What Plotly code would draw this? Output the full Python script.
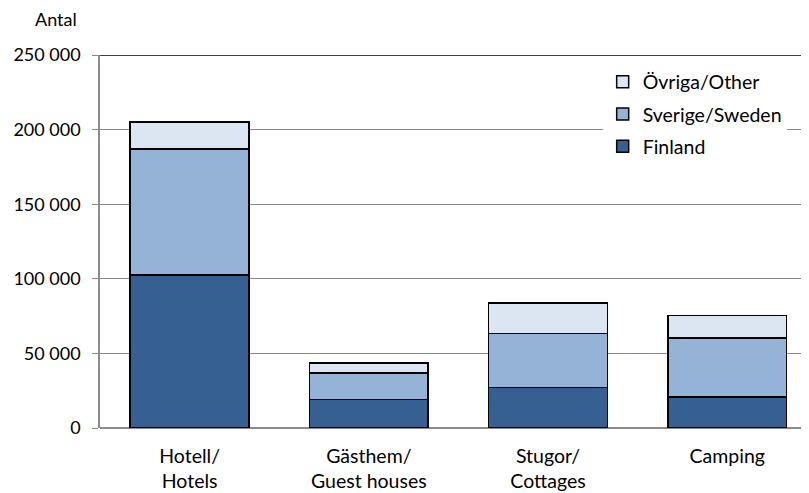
import plotly.graph_objects as go

categories = ["Hotell/<br>Hotels", "Gästhem/<br>Guest houses", "Stugor/<br>Cottages", "Camping"]
finland = [102500, 19000, 27200, 20800]
sverige = [84500, 17800, 36300, 39400]
ovriga = [18100, 6700, 20200, 15300]
y_tickvals = [0, 50000, 100000, 150000, 200000, 250000]
y_ticktext = ["0", "50 000", "100 000", "150 000", "200 000", "250 000"]

FONT = "Lato, Calibri, Carlito, sans-serif"
line = dict(color="#000000", width=1.5)

fig = go.Figure()
fig.add_trace(go.Bar(name="Finland", x=categories, y=finland, legendrank=3,
                     marker=dict(color="#376092", line=line), legendgroup="a"))
fig.add_trace(go.Bar(name="Sverige/Sweden", x=categories, y=sverige, legendrank=2,
                     marker=dict(color="#95B3D7", line=line), legendgroup="b"))
fig.add_trace(go.Bar(name="Övriga/Other", x=categories, y=ovriga, legendrank=1,
                     marker=dict(color="#DCE6F2", line=line), legendgroup="c"))

# page has an 8px body margin, so the figure is drawn 8px smaller and offset
fig.update_layout(
    width=801, height=485,
    barmode="stack", bargap=0.337,
    plot_bgcolor="white", paper_bgcolor="white",
    margin=dict(l=92, r=0, t=47, b=65),
    font=dict(family=FONT, size=18, color="#000000"),
    showlegend=True,
    legend=dict(x=0.709, y=0.98, xanchor="left", yanchor="top",
                bgcolor="white", traceorder="grouped",
                tracegroupgap=4, font=dict(size=19.5)),
    xaxis=dict(range=[-0.5, 3.456], showline=False, ticks="",
               tickfont=dict(size=19.5), showgrid=False, ticklabelstandoff=14),
    yaxis=dict(range=[0, 250000], tickvals=y_tickvals, ticktext=y_ticktext,
               showgrid=True, gridcolor="#8a8a8a", gridwidth=1.2,
               showline=True, linecolor="#8a8a8a", linewidth=1.5,
               ticks="outside", ticklen=6, tickcolor="#8a8a8a",
               ticklabelstandoff=8, zeroline=True, zerolinecolor="#8a8a8a",
               zerolinewidth=1.5, tickfont=dict(size=18)),
    shapes=[dict(type="line", xref="paper", yref="y", x0=0, x1=1,
                 y0=250000, y1=250000, line=dict(color="#000000", width=1.5))],
    annotations=[dict(text="Antal", xref="paper", yref="paper", x=-0.095, y=1.062,
                      xanchor="left", yanchor="bottom", showarrow=False,
                      font=dict(size=18))],
)

fig.write_html("out.html")
